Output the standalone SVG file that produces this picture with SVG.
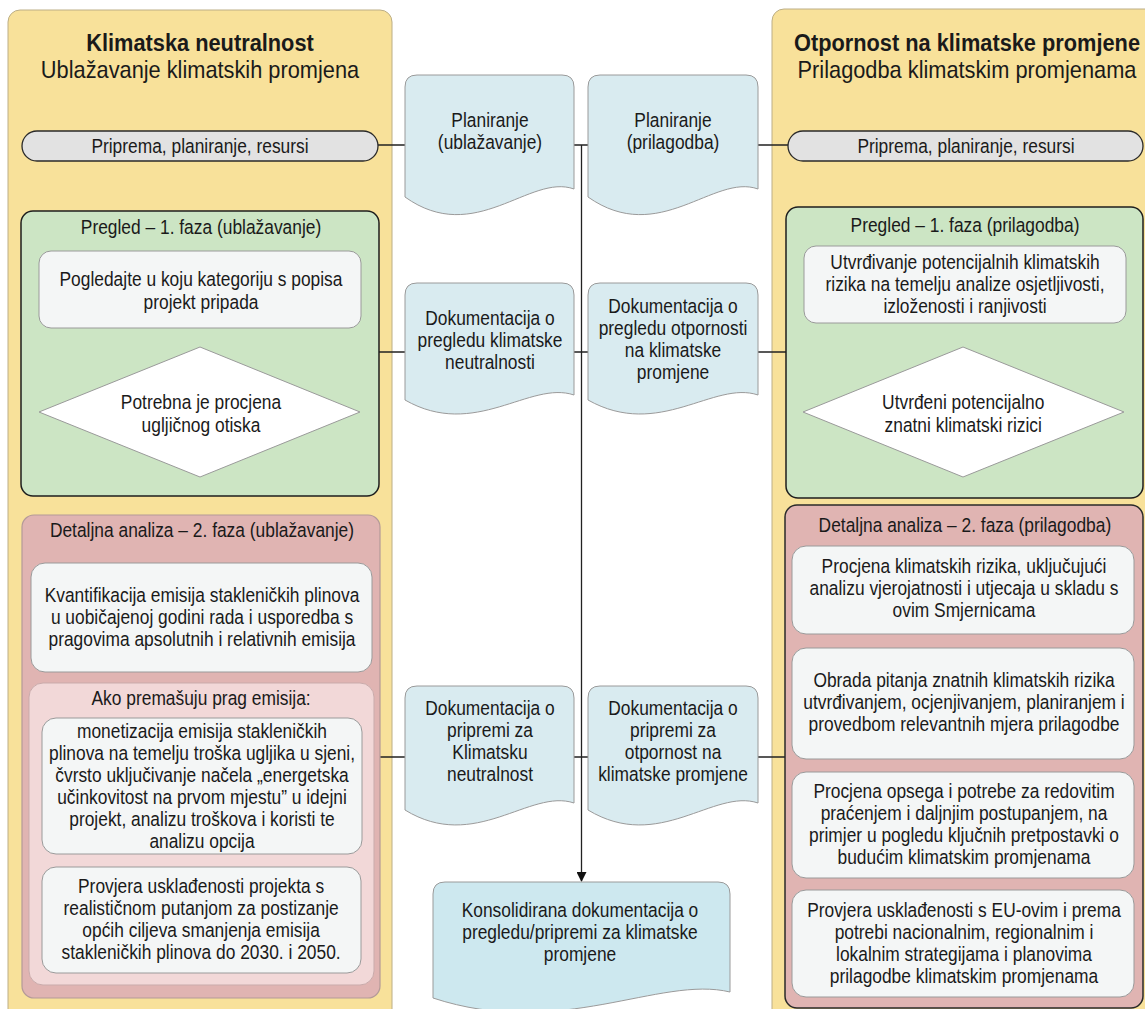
<svg xmlns="http://www.w3.org/2000/svg" width="1145" height="1009" viewBox="0 0 1145 1009">
  <defs>
    <style>
      text { font-family: "Liberation Sans", Arial, sans-serif; fill: #1a1a1a; text-anchor: middle; }
      .t { font-size: 19.3px; }
      .h1 { font-size: 24.2px; font-weight: bold; }
      .h2 { font-size: 24.2px; }
      .panel { fill: #f8e19a; stroke: #bcae86; stroke-width: 1; }
      .pill { fill: #e2e2e2; stroke: #2a2a2a; stroke-width: 1.3; }
      .green { fill: #cce5c4; stroke: #1e1e1e; stroke-width: 1.5; }
      .red { fill: #e0b4b2; stroke: #b49a98; stroke-width: 1.2; }
      .red-dark { fill: #e0b4b2; stroke: #2a2a2a; stroke-width: 1.5; }
      .pink { fill: #f2d8d8; stroke: #c9abab; stroke-width: 1; }
      .box { fill: #f4f6f6; stroke: #9a9a9a; stroke-width: 1; }
      .diamond { fill: #ffffff; stroke: #9a9a9a; stroke-width: 1; }
      .doc { fill: #d9ebf0; stroke: #9a9a9a; stroke-width: 1; }
      .doc-main { fill: #cde8ef; stroke: #9a9a9a; stroke-width: 1; }
      .wire { fill: none; stroke: #222222; stroke-width: 1.3; }
    </style>
    <marker id="arrow" markerWidth="10" markerHeight="10" refX="9" refY="5" orient="auto" markerUnits="userSpaceOnUse">
      <path d="M0,0 L10,5 L0,10 Z" fill="#111111"/>
    </marker>
  </defs>

  <!-- side columns; labels use a narrowed Arial-metric face (scale 0.9 horizontally) -->
  <g id="panel-mitigation">
    <rect class="panel" x="8" y="10" width="384" height="1020" rx="12"/>
    <g transform="translate(200 0) scale(0.9 1)">
      <text class="h1" x="0" y="51">Klimatska neutralnost</text>
      <text class="h2" x="0" y="78">Ublažavanje klimatskih promjena</text>
    </g>
  </g>
  <g id="panel-adaptation">
    <rect class="panel" x="772" y="9" width="400" height="1020" rx="12"/>
    <g transform="translate(967 0) scale(0.9 1)">
      <text class="h1" x="0" y="51">Otpornost na klimatske promjene</text>
      <text class="h2" x="0" y="78">Prilagodba klimatskim promjenama</text>
    </g>
  </g>

  <!-- connectors -->
  <g id="connectors">
    <path class="wire" d="M378,145 H405 M574,145 H588 M758,145 H788"/>
    <path class="wire" d="M379,352 H405 M574,352 H588 M758,352 H786"/>
    <path class="wire" d="M380,757 H405 M574,757 H588 M758,757 H785"/>
    <path class="wire" d="M201.5,672 V683 M201.5,854 V867"/>
    <path class="wire" d="M581.5,145 V881" marker-end="url(#arrow)"/>
  </g>

  <!-- preparation bars -->
  <g id="prep-left">
    <rect class="pill" x="22" y="131" width="356" height="30" rx="15"/>
    <g transform="translate(200 0) scale(0.9 1)">
      <text class="t" x="0" y="153">Priprema, planiranje, resursi</text>
    </g>
  </g>
  <g id="prep-right">
    <rect class="pill" x="788" y="131" width="355" height="30" rx="15"/>
    <g transform="translate(966 0) scale(0.9 1)">
      <text class="t" x="0" y="153">Priprema, planiranje, resursi</text>
    </g>
  </g>

  <!-- screening phase, mitigation -->
  <g id="screening-left">
    <rect class="green" x="21" y="211" width="358" height="285" rx="12"/>
    <rect class="box" x="39" y="251" width="322" height="77" rx="12"/>
    <polygon class="diamond" points="200,347 360,412 200,477 39,412"/>
    <g transform="translate(201 0) scale(0.9 1)">
      <text class="t" x="0" y="234">Pregled – 1. faza (ublažavanje)</text>
      <text class="t" x="0" y="286">Pogledajte u koju kategoriju s popisa</text>
      <text class="t" x="0" y="309">projekt pripada</text>
      <text class="t" x="0" y="409">Potrebna je procjena</text>
      <text class="t" x="0" y="432">ugljičnog otiska</text>
    </g>
  </g>

  <!-- screening phase, adaptation -->
  <g id="screening-right">
    <rect class="green" x="786" y="207" width="357" height="291" rx="12"/>
    <rect class="box" x="804" y="246" width="322" height="77" rx="12"/>
    <polygon class="diamond" points="963,347 1124,412 963,477 803,412"/>
    <g transform="translate(965 0) scale(0.9 1)">
      <text class="t" x="0" y="232">Pregled – 1. faza (prilagodba)</text>
      <text class="t" x="0" y="269">Utvrđivanje potencijalnih klimatskih</text>
      <text class="t" x="0" y="291">rizika na temelju analize osjetljivosti,</text>
      <text class="t" x="0" y="313">izloženosti i ranjivosti</text>
      <text class="t" x="-2" y="409">Utvrđeni potencijalno</text>
      <text class="t" x="-2" y="432">znatni klimatski rizici</text>
    </g>
  </g>

  <!-- detailed analysis, mitigation -->
  <g id="analysis-left">
    <rect class="red" x="22" y="515" width="358" height="483" rx="12"/>
    <rect class="box" x="31" y="563" width="341" height="109" rx="14"/>
    <g transform="translate(202 0) scale(0.9 1)">
      <text class="t" x="0" y="537">Detaljna analiza – 2. faza (ublažavanje)</text>
      <text class="t" x="0" y="602">Kvantifikacija emisija stakleničkih plinova</text>
      <text class="t" x="0" y="624">u uobičajenoj godini rada i usporedba s</text>
      <text class="t" x="0" y="646">pragovima apsolutnih i relativnih emisija</text>
    </g>
    <g id="threshold-exceeded">
      <rect class="pink" x="29" y="683" width="345" height="302" rx="14"/>
      <rect class="box" x="42" y="718" width="320" height="136" rx="14"/>
      <rect class="box" x="42" y="867" width="319" height="106" rx="14"/>
      <g transform="translate(202 0) scale(0.9 1)">
        <text class="t" x="-1" y="705">Ako premašuju prag emisija:</text>
        <text class="t" x="0" y="738">monetizacija emisija stakleničkih</text>
        <text class="t" x="0" y="760">plinova na temelju troška ugljika u sjeni,</text>
        <text class="t" x="0" y="782">čvrsto uključivanje načela „energetska</text>
        <text class="t" x="0" y="804">učinkovitost na prvom mjestu” u idejni</text>
        <text class="t" x="0" y="826">projekt, analizu troškova i koristi te</text>
        <text class="t" x="0" y="848">analizu opcija</text>
        <text class="t" x="-1" y="893">Provjera usklađenosti projekta s</text>
        <text class="t" x="-1" y="915">realističnom putanjom za postizanje</text>
        <text class="t" x="-1" y="937">općih ciljeva smanjenja emisija</text>
        <text class="t" x="-1" y="959">stakleničkih plinova do 2030. i 2050.</text>
      </g>
    </g>
  </g>

  <!-- detailed analysis, adaptation -->
  <g id="analysis-right">
    <rect class="red-dark" x="785" y="505" width="358" height="503" rx="12"/>
    <rect class="box" x="792" y="546" width="342" height="88" rx="14"/>
    <rect class="box" x="792" y="648" width="342" height="111" rx="14"/>
    <rect class="box" x="792" y="772" width="342" height="106" rx="14"/>
    <rect class="box" x="792" y="890" width="342" height="107" rx="14"/>
    <g transform="translate(964 0) scale(0.9 1)">
      <text class="t" x="1" y="532">Detaljna analiza – 2. faza (prilagodba)</text>
      <text class="t" x="0" y="573">Procjena klimatskih rizika, uključujući</text>
      <text class="t" x="0" y="595">analizu vjerojatnosti i utjecaja u skladu s</text>
      <text class="t" x="0" y="617">ovim Smjernicama</text>
      <text class="t" x="0" y="687">Obrada pitanja znatnih klimatskih rizika</text>
      <text class="t" x="0" y="709">utvrđivanjem, ocjenjivanjem, planiranjem i</text>
      <text class="t" x="0" y="731">provedbom relevantnih mjera prilagodbe</text>
      <text class="t" x="0" y="798">Procjena opsega i potrebe za redovitim</text>
      <text class="t" x="0" y="820">praćenjem i daljnjim postupanjem, na</text>
      <text class="t" x="0" y="842">primjer u pogledu ključnih pretpostavki o</text>
      <text class="t" x="0" y="864">budućim klimatskim promjenama</text>
      <text class="t" x="0" y="917">Provjera usklađenosti s EU-ovim i prema</text>
      <text class="t" x="0" y="939">potrebi nacionalnim, regionalnim i</text>
      <text class="t" x="0" y="961">lokalnim strategijama i planovima</text>
      <text class="t" x="0" y="983">prilagodbe klimatskim promjenama</text>
    </g>
  </g>

  <!-- documentation outputs -->
  <g id="doc-plan-mitigation">
    <path class="doc" d="M405,87 Q405,75 417,75 H562 Q574,75 574,87 V189 C530,173 475,247 405,197 Z"/>
    <g transform="translate(490 0) scale(0.9 1)">
      <text class="t" x="0" y="127">Planiranje</text>
      <text class="t" x="0" y="149">(ublažavanje)</text>
    </g>
  </g>
  <g id="doc-plan-adaptation">
    <path class="doc" d="M588,87 Q588,75 600,75 H746 Q758,75 758,87 V189 C714,173 659,247 588,197 Z"/>
    <g transform="translate(673 0) scale(0.9 1)">
      <text class="t" x="0" y="127">Planiranje</text>
      <text class="t" x="0" y="149">(prilagodba)</text>
    </g>
  </g>
  <g id="doc-screen-mitigation">
    <path class="doc" d="M405,295 Q405,283 417,283 H562 Q574,283 574,295 V395 C530,380 475,440 405,400 Z"/>
    <g transform="translate(490 0) scale(0.9 1)">
      <text class="t" x="0" y="325">Dokumentacija o</text>
      <text class="t" x="0" y="347">pregledu klimatske</text>
      <text class="t" x="0" y="369">neutralnosti</text>
    </g>
  </g>
  <g id="doc-screen-adaptation">
    <path class="doc" d="M588,295 Q588,283 600,283 H746 Q758,283 758,295 V395 C714,380 659,440 588,400 Z"/>
    <g transform="translate(673 0) scale(0.9 1)">
      <text class="t" x="0" y="313">Dokumentacija o</text>
      <text class="t" x="0" y="335">pregledu otpornosti</text>
      <text class="t" x="0" y="357">na klimatske</text>
      <text class="t" x="0" y="379">promjene</text>
    </g>
  </g>
  <g id="doc-prep-mitigation">
    <path class="doc" d="M405,698 Q405,686 417,686 H562 Q574,686 574,698 V803 C530,788 475,853 405,810 Z"/>
    <g transform="translate(490 0) scale(0.9 1)">
      <text class="t" x="0" y="715">Dokumentacija o</text>
      <text class="t" x="0" y="737">pripremi za</text>
      <text class="t" x="0" y="759">Klimatsku</text>
      <text class="t" x="0" y="781">neutralnost</text>
    </g>
  </g>
  <g id="doc-prep-adaptation">
    <path class="doc" d="M588,698 Q588,686 600,686 H746 Q758,686 758,698 V803 C714,788 659,853 588,810 Z"/>
    <g transform="translate(673 0) scale(0.9 1)">
      <text class="t" x="0" y="715">Dokumentacija o</text>
      <text class="t" x="0" y="737">pripremi za</text>
      <text class="t" x="0" y="759">otpornost na</text>
      <text class="t" x="0" y="781">klimatske promjene</text>
    </g>
  </g>
  <g id="doc-consolidated">
    <path class="doc-main" d="M433,894 Q433,882 445,882 H718 Q730,882 730,894 V992 C660,975 560,1040 433,998 Z"/>
    <g transform="translate(580 0) scale(0.9 1)">
      <text class="t" x="0" y="917">Konsolidirana dokumentacija o</text>
      <text class="t" x="0" y="939">pregledu/pripremi za klimatske</text>
      <text class="t" x="0" y="961">promjene</text>
    </g>
  </g>
</svg>
